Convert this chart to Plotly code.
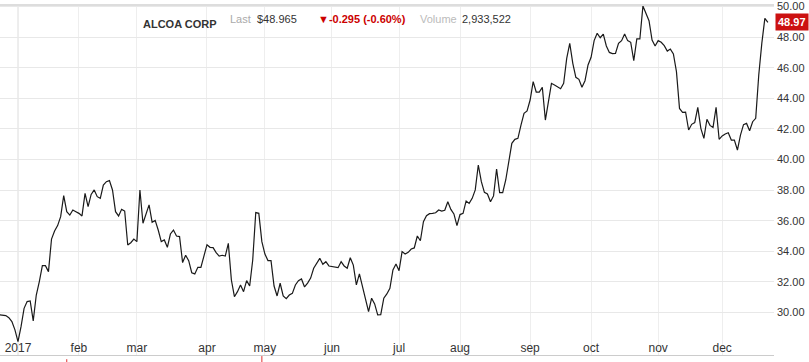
import pandas as pd
import plotly.graph_objects as go

# ---------------- data ----------------
holidays = ["2016-12-26", "2017-01-02", "2017-01-16", "2017-02-20", "2017-04-14",
            "2017-05-29", "2017-07-04", "2017-09-04", "2017-11-23"]
start_date = "2016-12-22"
end_date = "2017-12-22"

close_a = [29.84, 29.84, 29.80, 29.66, 29.40, 28.86, 28.10, 29.07, 30.27, 30.71,
           30.75, 29.45, 31.14, 32.02, 33.06, 33.06, 32.67, 34.80, 35.33, 35.68,
           36.26, 37.64, 36.59, 36.37, 36.70, 36.59, 36.48, 36.31, 37.79, 36.92,
           37.72, 38.01, 37.57, 37.46, 38.33, 38.55, 38.62, 38.01, 36.59, 36.31,
           36.74, 36.63, 34.41, 34.56, 34.80, 34.63, 38.01, 35.83, 36.48, 37.03,
           35.90, 36.02, 35.39, 34.63, 34.74, 34.26, 35.13, 35.39, 35.00, 34.96,
           33.26, 33.74, 33.39, 32.60]
close_b = [32.52, 32.95, 32.95, 33.61, 34.43, 34.26,
           34.24, 33.91, 33.69, 33.74, 33.69, 34.52, 32.12, 31.03, 31.36, 31.80,
           31.36, 32.08, 31.73, 33.43, 36.53, 36.48, 34.63, 33.82, 33.39, 33.39,
           31.73, 31.08, 31.91, 31.08, 30.90, 31.14, 31.25, 31.80, 32.08, 32.19,
           31.67, 31.92, 32.25, 32.89, 33.26, 33.54, 33.15, 33.32, 33.04, 33.00,
           32.95, 32.93, 33.32, 33.04, 32.89, 33.58, 33.10, 31.80, 32.52, 31.69,
           30.82, 30.06, 30.93, 30.56, 29.84, 29.86, 30.93, 31.21, 31.58, 32.78]
close_c = [33.17, 32.73, 33.98, 33.82, 33.93, 34.15, 34.22, 35.00, 34.69, 35.94,
           36.33, 36.46, 36.48, 36.52, 36.70, 36.63, 36.68, 37.24, 36.74, 36.44,
           35.68, 36.40, 36.48, 37.29, 37.13, 37.46, 38.01, 39.64, 38.55, 37.85,
           37.75, 37.24, 37.62, 39.38, 37.83, 37.83, 38.66, 39.86, 41.06, 41.32,
           41.38, 42.25, 43.02, 43.17, 43.89, 45.09, 44.41, 44.41, 44.72, 42.58,
           43.89, 44.98, 44.87, 44.74, 44.63, 44.98, 46.61, 47.59, 46.29, 45.37,
           45.24, 44.72, 45.15, 46.18]
close_d = [46.68, 47.77, 48.25, 47.96, 48.20, 47.42,
           47.00, 46.92, 46.94, 47.59, 47.77, 48.20, 47.77, 47.66, 46.46, 47.88,
           47.88, 50.03, 49.51, 49.07, 47.81, 47.42, 47.77, 47.66, 47.44, 47.09,
           47.22, 46.90, 45.74, 43.34, 43.08, 43.10, 41.93, 42.30, 42.41, 43.41,
           42.04, 41.38, 42.63, 42.23, 42.10, 43.41, 41.32, 41.54, 41.67, 41.75,
           41.27, 41.27, 40.62, 41.60, 42.28, 42.36, 41.88, 42.47, 42.69, 45.52,
           47.59, 49.23, 48.97]

month_tick_dates = ["2017-01-03", "2017-02-01", "2017-03-01", "2017-04-03", "2017-05-01",
                    "2017-06-01", "2017-07-03", "2017-08-01", "2017-09-01", "2017-10-02",
                    "2017-11-01", "2017-12-01"]
month_tick_labels = ["2017", "feb", "mar", "apr", "may", "jun", "jul", "aug", "sep",
                     "oct", "nov", "dec"]
y_ticks = [30, 32, 34, 36, 38, 40, 42, 44, 46, 48, 50]
event_dates = ["2017-01-26", "2017-04-28"]

title_name = "ALCOA CORP"
last_label = "Last"
last_price = "$48.965"
change_text = "\u25BC-0.295 (-0.60%)"
volume_label = "Volume"
volume_value = "2,933,522"
last_close = 48.97

# ---------------- build ----------------
dates = pd.bdate_range(start_date, end_date, freq="C", holidays=holidays)
x = [d.strftime("%Y-%m-%d") for d in dates]
y = close_a + close_b + close_c + close_d
n = min(len(x), len(y))
x, y = x[:n], y[:n]

FONT = "Liberation Sans, Arial, Helvetica, sans-serif"

fig = go.Figure()
fig.add_trace(go.Scatter(x=x, y=y, mode="lines",
                         line=dict(color="#1a1a1a", width=1.2),
                         hoverinfo="x+y", showlegend=False))

fig.update_layout(
    width=809, height=362,
    margin=dict(l=0, r=35, t=5, b=7),
    paper_bgcolor="white", plot_bgcolor="white",
    font=dict(family=FONT, size=11, color="#333333"),
    showlegend=False,
    xaxis=dict(type="category", range=[0.1, 254.0],
               tickmode="array", tickvals=month_tick_dates, ticktext=month_tick_labels,
               ticklabelposition="inside", ticks="",
               tickfont=dict(size=12, color="#333333", family=FONT),
               showgrid=True, gridcolor="#eeeeee", gridwidth=1,
               showline=True, linecolor="#cccccc", linewidth=1,
               zeroline=False, fixedrange=True),
    yaxis=dict(side="right", range=[27.22, 50.10],
               tickmode="array", tickvals=y_ticks,
               ticktext=["%.2f" % v for v in y_ticks],
               ticks="", ticklabelstandoff=2,
               tickfont=dict(size=11, color="#333333", family=FONT),
               showgrid=True, gridcolor="#e8e8e8", gridwidth=1,
               showline=False, zeroline=False, fixedrange=True),
)

# top border
fig.add_shape(type="line", xref="paper", yref="paper", x0=0, x1=1.0, y0=1, y1=1,
              line=dict(color="#dddddd", width=2))
# year boundary gridline a bit darker
fig.add_shape(type="line", xref="x", yref="paper", x0=month_tick_dates[0], x1=month_tick_dates[0],
              y0=0, y1=1, line=dict(color="#dadada", width=1), layer="below")
# event markers under axis
for d, h in zip(event_dates, [-0.012, -0.003]):
    fig.add_shape(type="line", xref="x", yref="paper", x0=d, x1=d, y0=h, y1=-0.03,
                  line=dict(color="#e03030", width=1))

# header texts
def hdr(text, xpx, ypx, color, bold=False, size=11):
    fig.add_annotation(text=("<b>%s</b>" % text) if bold else text,
                       xref="paper", yref="paper",
                       x=xpx / 774.0, y=1 - (ypx - 5) / 350.0,
                       xanchor="left", yanchor="middle", showarrow=False,
                       font=dict(family=FONT, size=size, color=color))

hdr(title_name, 141, 24, "#333333", bold=True)
hdr(last_label, 228, 19, "#aaaaaa")
hdr(last_price, 255, 19, "#333333")
hdr(change_text, 316, 19, "#cc0000", bold=True)
hdr(volume_label, 418, 19, "#bbbbbb")
hdr(volume_value, 460, 19, "#333333")

# last price badge
fig.add_annotation(text="<b>%.2f</b>" % last_close, xref="paper", yref="y",
                   x=1, y=last_close, xanchor="left", yanchor="middle", xshift=1,
                   showarrow=False, bgcolor="#cc1111", borderpad=2,
                   font=dict(family=FONT, size=11, color="white"))

fig.write_html("out.html", config={"displayModeBar": False},
               post_script="document.body.style.margin='0';")
